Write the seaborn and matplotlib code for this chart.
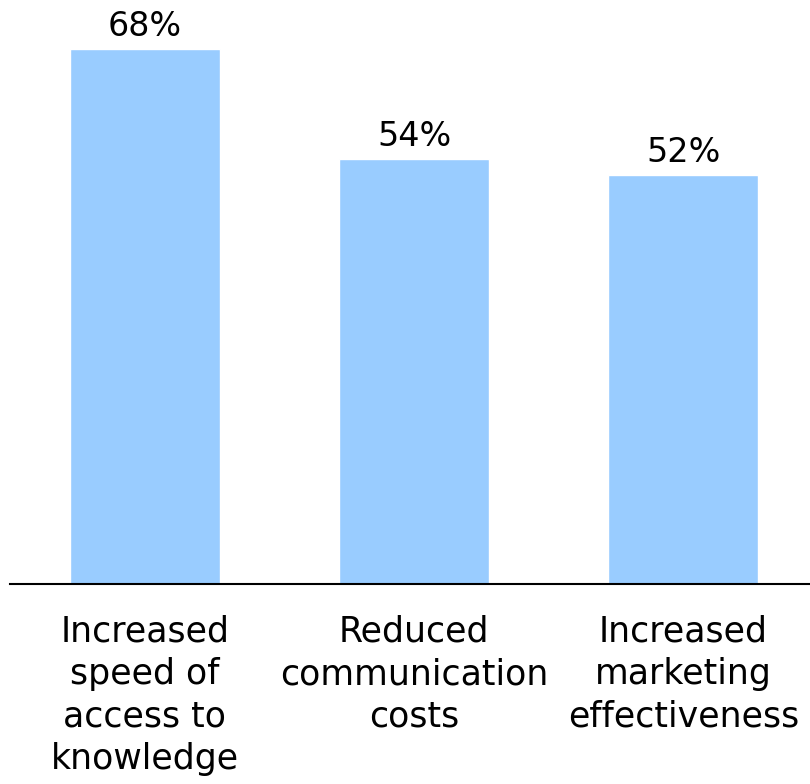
import matplotlib
matplotlib.use("Agg")
import matplotlib.pyplot as plt
import seaborn as sns
import pandas as pd

categories = [
    "Increased\nspeed of\naccess to\nknowledge",
    "Reduced\ncommunication\ncosts",
    "Increased\nmarketing\neffectiveness",
]
values = [68, 54, 52]
value_labels = ["68%", "54%", "52%"]

sns.set_theme(style="white")
plt.rcParams["font.family"] = ["DejaVu Sans"]

df = pd.DataFrame({"category": categories, "value": values})

fig = plt.figure(figsize=(8.1, 7.84), dpi=100)
ax = fig.add_axes([10 / 810, 200 / 784, 800 / 810, 584 / 784])

sns.barplot(data=df, x="category", y="value", color="#99CCFF",
            saturation=1, width=0.557, ax=ax)

ax.set_xlim(-0.5, 2.47)
ax.set_ylim(0, 74.2)

for patch, txt in zip(ax.patches, value_labels):
    ax.annotate(txt, (patch.get_x() + patch.get_width() / 2, patch.get_height()),
                xytext=(0, 9.4), textcoords="offset points",
                ha="center", va="baseline", fontsize=24, color="black")

ax.set_xlabel("")
ax.set_ylabel("")
ax.set_yticks([])
ax.tick_params(axis="x", length=0, pad=22, labelsize=25, labelcolor="black")
for lbl in ax.get_xticklabels():
    lbl.set_multialignment("center")
    lbl.set_linespacing(1.32)

for side in ["top", "left", "right"]:
    ax.spines[side].set_visible(False)
ax.spines["bottom"].set_color("black")
ax.spines["bottom"].set_linewidth(1.5)

fig.savefig("out.png", dpi=100, facecolor="white")
